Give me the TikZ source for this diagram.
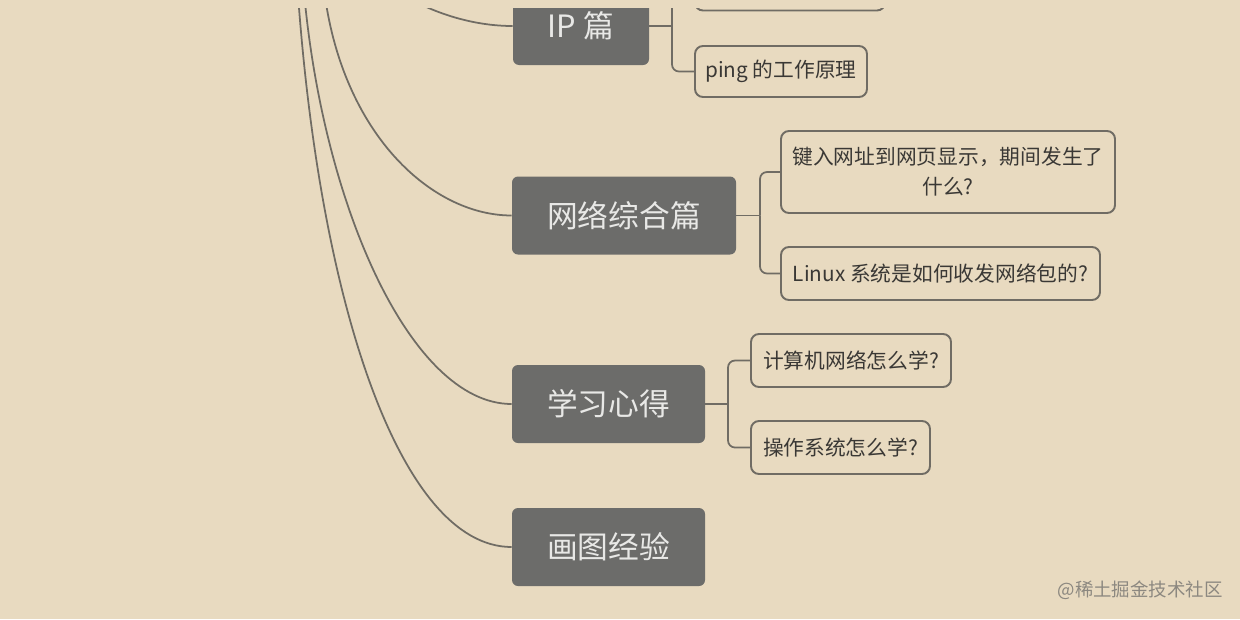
\documentclass[tikz,border=0pt]{standalone}
\usepackage{fontspec}
\setmainfont{Noto Sans CJK SC}
\usetikzlibrary{positioning}
\definecolor{paperColor}{RGB}{232,218,192}
\definecolor{topicColor}{RGB}{108,108,106}
\definecolor{topicText}{RGB}{232,232,230}
\definecolor{lineColor}{RGB}{112,108,100}
\definecolor{subText}{RGB}{58,56,53}
\definecolor{markColor}{RGB}{140,136,128}
\newcommand{\unitpx}{0.02cm}
\tikzstyle{mindmap} = [x = \unitpx, y = -\unitpx]
\tikzstyle{topicBox} = [fill=topicColor, text=topicText, rounded corners = .12cm, inner sep=0pt, minimum height = 78*\unitpx, font=\fontsize{17.5}{20}\selectfont]
\tikzstyle{subBox} = [draw=lineColor, line width=1.1pt, fill=paperColor, text=subText, rounded corners = .16cm, inner sep=0pt, minimum height = 53*\unitpx, align=center, font=\fontsize{11.8}{17}\selectfont]
\tikzstyle{link} = [draw=lineColor, line width=1pt]
\tikzstyle{elbow} = [link, rounded corners = .14cm]
\tikzstyle{markText} = [text=markColor, inner sep=0pt, font=\fontsize{10.5}{12}\selectfont]

\begin{document}
\begin{tikzpicture}[mindmap]
  \fill [paperColor] (0,0) rectangle (1240,619);
  \useasboundingbox (0,0) rectangle (1240,619);
  \begin{scope}
    \clip (0,8) rectangle (1240,619);

    \node [topicBox, minimum width = 136*\unitpx] (ip) at (581,26) {IP 篇};
    \node [topicBox, minimum width = 224*\unitpx] (net) at (624,215.5) {网络综合篇};
    \node [topicBox, minimum width = 193*\unitpx] (study) at (608.5,404) {学习心得};
    \node [topicBox, minimum width = 193*\unitpx] (drawing) at (608.5,547) {画图经验};

    \node [subBox, minimum width = 190*\unitpx] (ipTop) at (790,-16) {};
    \node [subBox, minimum width = 172*\unitpx, minimum height = 51*\unitpx] (ping) at (781,71.5) {ping 的工作原理};
    \node [subBox, minimum width = 334*\unitpx, minimum height = 82*\unitpx] (url) at (948,172) {键入网址到网页显示，期间发生了\\什么?};
    \node [subBox, minimum width = 319*\unitpx] (linux) at (940.5,273.5) {Linux 系统是如何收发网络包的?};
    \node [subBox, minimum width = 200*\unitpx] (howNet) at (851,360.5) {计算机网络怎么学?};
    \node [subBox, minimum width = 179*\unitpx] (howOs) at (840.5,447.5) {操作系统怎么学?};

    \coordinate (rootIp) at (412,0);
    \coordinate (rootNet) at (323,-20);
    \coordinate (rootStudy) at (303,-20);
    \coordinate (rootDrawing) at (297,-20);
    \draw [link] (rootIp) .. controls +(30,16) and +(-35,0) .. (ip.west);
    \draw [link] (rootNet) .. controls +(15,150) and +(-82,0) .. (net.west);
    \draw [link] (rootStudy) .. controls +(17,220) and +(-102,0) .. (study.west);
    \draw [link] (rootDrawing) .. controls +(21,320) and +(-112,0) .. (drawing.west);

    \coordinate (ipFork) at (672,26);
    \coordinate (netFork) at (760,215.5);
    \coordinate (studyFork) at (728,404);
    \draw [link] (ip.east) -- (ipFork);
    \draw [elbow] (ipTop.west) -| (ipFork);
    \draw [elbow] (ping.west) -| (ipFork);
    \draw [link] (net.east) -- (netFork);
    \draw [elbow] (url.west) -| (netFork);
    \draw [elbow] (linux.west) -| (netFork);
    \draw [link] (study.east) -- (studyFork);
    \draw [elbow] (howNet.west) -| (studyFork);
    \draw [elbow] (howOs.west) -| (studyFork);

    \node [markText, anchor=east] (mark) at (1223,590) {@稀土掘金技术社区};
  \end{scope}
\end{tikzpicture}
\end{document}
